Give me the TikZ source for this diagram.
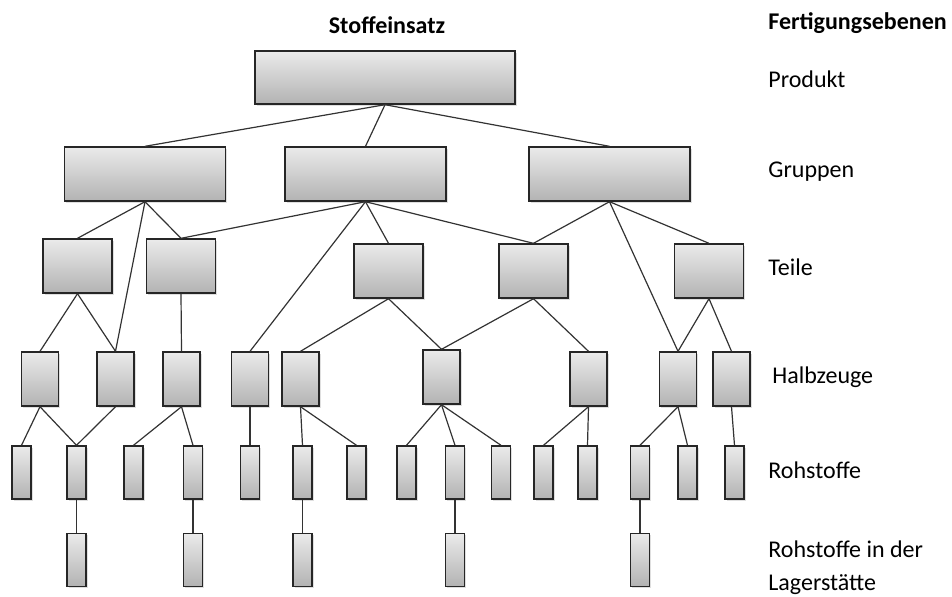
\documentclass[tikz,border=0pt]{standalone}
\usepackage{fontspec}
\setmainfont{Carlito}
\usetikzlibrary{shadows}
\definecolor{linkgray}{HTML}{333333}

\begin{document}
\begin{tikzpicture}[x=0.5pt,y=-0.5pt,
    box/.style={draw=black!85, line width=0.7pt, top color=black!8, bottom color=black!30,
      inner sep=0pt, drop shadow={opacity=0.25, shadow xshift=0.8pt, shadow yshift=-0.8pt}},
    prodbox/.style={box, minimum width=130pt, minimum height=26.5pt},
    groupbox/.style={box, minimum width=80.5pt, minimum height=27pt},
    partbox/.style={box, minimum width=34.5pt, minimum height=27pt},
    halfbox/.style={box, minimum width=18.5pt, minimum height=27pt},
    rawbox/.style={box, minimum width=9.5pt, minimum height=26.5pt},
    link/.style={draw=linkgray, line width=0.6pt},
    level/.style={anchor=west, font=\fontsize{12}{16.5}\selectfont, inner sep=0pt}]
  \useasboundingbox (0,0) rectangle (952,596);

  \node[font=\fontsize{12}{14}\selectfont\bfseries] (head) at (387,25) {Stoffeinsatz};
  \node[level, font=\fontsize{12}{14}\selectfont\bfseries] (ebenen) at (768,23) {Fertigungsebenen};

  \node[prodbox] (prod) at (385,77.5) {};

  \node[groupbox] (g1) at (145,174) {};
  \node[groupbox] (g2) at (365.5,174) {};
  \node[groupbox] (g3) at (609.5,174) {};

  \node[partbox] (t1) at (77.5,266) {};
  \node[partbox] (t2) at (181,266) {};
  \node[partbox] (t3) at (388.5,271) {};
  \node[partbox] (t4) at (533.5,271) {};
  \node[partbox] (t5) at (709,271) {};

  \foreach \n/\x/\y in {h1/40/379, h2/115.5/379, h3/181.5/379, h4/250/379, h5/300.5/379,
      h6/441.5/377, h7/588.5/379, h8/678/379, h9/731.5/379}
    \node[halfbox] (\n) at (\x,\y) {};

  \foreach \n/\x in {r1/21.5, r2/76.5, r3/133.5, r4/193, r5/250, r6/302.5, r7/356.5, r8/406.5,
      r9/455, r10/501, r11/543.5, r12/587.5, r13/640, r14/687.5, r15/734.5}
    \node[rawbox] (\n) at (\x,472.5) {};

  \foreach \n/\x in {l1/76.5, l2/193, l3/302.5, l4/455, l5/640}
    \node[rawbox] (\n) at (\x,560) {};

  \foreach \a/\b in {prod/g1, prod/g2, prod/g3,
      g1/t1, g1/t2, g1/h2, g2/t2, g2/h4, g2/t3, g2/t4, g3/t4, g3/h8, g3/t5,
      t1/h1, t1/h2, t2/h3, t3/h5, t3/h6, t4/h6, t4/h7, t5/h8, t5/h9,
      h1/r1, h1/r2, h2/r2, h3/r3, h3/r4, h4/r5, h5/r6, h5/r7, h6/r8, h6/r9, h6/r10,
      h7/r11, h7/r12, h8/r13, h8/r14, h9/r15,
      r2/l1, r4/l2, r6/l3, r9/l4, r13/l5}
    \draw[link] (\a.south) -- (\b.north);

  \node[level] (produkt) at (768,79) {Produkt};
  \node[level] (gruppen) at (768,172) {Gruppen};
  \node[level] (teile) at (768,267) {Teile};
  \node[level] (halbzeuge) at (772,377) {Halbzeuge};
  \node[level] (rohstoffe) at (768,470) {Rohstoffe};
  \node[level, align=left] (lager) at (768,567.5) {Rohstoffe in der\\Lagerstätte};
\end{tikzpicture}
\end{document}
